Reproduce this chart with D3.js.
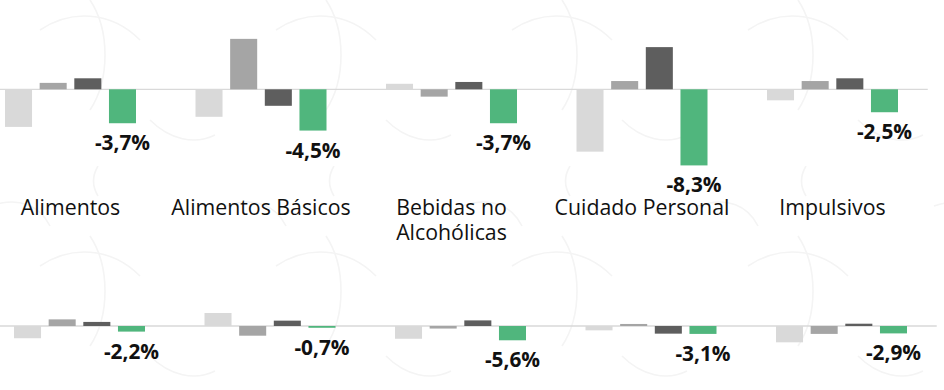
<!DOCTYPE html>
<html>
<head>
<meta charset="utf-8">
<script src="https://cdn.jsdelivr.net/npm/d3@7"></script>
<style>
  html, body { margin: 0; padding: 0; background: #ffffff; }
  svg { display: block; }
</style>
</head>
<body>
<div id="chart"></div>
<script>
// ---- data ----
const categories = ["Alimentos", "Alimentos Básicos", "Bebidas no Alcohólicas", "Cuidado Personal", "Impulsivos"];
const categoryLines = [["Alimentos"], ["Alimentos Básicos"], ["Bebidas no", "Alcohólicas"], ["Cuidado Personal"], ["Impulsivos"]];
const seriesNames = ["s1", "s2", "s3", "s4"];
// top row
const topS1 = [-4.1, -3.0, 0.6, -6.8, -1.2];
const topS2 = [0.7, 5.5, -0.8, 0.9, 0.9];
const topS3 = [1.2, -1.8, 0.8, 4.6, 1.2];
const topS4 = [-3.7, -4.5, -3.7, -8.3, -2.5];
// bottom row
const botS1 = [-4.8, 5.1, -5.0, -1.7, -6.4];
const botS2 = [2.6, -3.8, -1.0, 0.8, -3.1];
const botS3 = [1.6, 2.1, 2.2, -3.0, 0.9];
const botS4 = [-2.2, -0.7, -5.6, -3.1, -2.9];

const colors = ["#d9d9d9", "#a5a5a5", "#5e5e5e", "#50b67d"];

const W = 944, H = 390;
const svg = d3.select("#chart").append("svg").attr("width", W).attr("height", H);

// faint background watermark pattern
const defs = svg.append("defs");
const pat = defs.append("pattern").attr("id", "wm").attr("patternUnits", "userSpaceOnUse")
  .attr("width", 236).attr("height", 236).attr("x", -20).attr("y", -70);
const pg = pat.append("g").attr("fill", "none").attr("stroke", "#f4f4f4").attr("stroke-width", 1.6);
pg.append("path").attr("d", "M60,100 C90,80 130,80 160,110");
pg.append("path").attr("d", "M110,70 C130,100 130,150 110,180");
pg.append("path").attr("d", "M170,190 C190,210 215,215 235,205");
pg.append("path").attr("d", "M10,40 C40,30 60,40 70,60");
pg.append("path").attr("d", "M118,0 C112,10 112,20 118,30");
svg.append("rect").attr("width", W).attr("height", H).attr("fill", "url(#wm)");

function drawRow(rowData, opts) {
  const x0 = d3.scaleBand().domain(categories).range(opts.xRange);
  const inner = 131;
  const x1 = d3.scaleBand().domain(seriesNames)
    .range([(x0.bandwidth() - inner) / 2, (x0.bandwidth() + inner) / 2])
    .paddingInner(0.22).paddingOuter(0);
  const y = d3.scaleLinear().domain([-10, 10]).range(opts.yRange);

  const g = svg.append("g");
  // baseline
  g.append("line")
    .attr("x1", Math.max(0, opts.xRange[0])).attr("x2", opts.xRange[1])
    .attr("y1", y(0)).attr("y2", y(0))
    .attr("stroke", "#d9d9d9").attr("stroke-width", 1.3);

  const groups = g.selectAll("g.grp").data(categories).join("g")
    .attr("transform", d => `translate(${x0(d)},0)`);

  groups.selectAll("rect").data((c, i) => seriesNames.map((s, j) => ({ s, j, v: rowData[j][i] })))
    .join("rect")
    .attr("x", d => x1(d.s))
    .attr("width", x1.bandwidth())
    .attr("y", d => Math.min(y(d.v), y(0)))
    .attr("height", d => Math.abs(y(d.v) - y(0)))
    .attr("fill", d => colors[d.j]);

  const fmt = v => d3.format(".1f")(v).replace(".", ",").replace("−", "-") + "%";
  groups.append("text")
    .attr("x", x1("s4") + x1.bandwidth() / 2)
    .attr("y", (c, i) => y(rowData[3][i]) + 27)
    .attr("text-anchor", "middle")
    .attr("font-family", "'Open Sans', sans-serif")
    .attr("font-weight", 700)
    .attr("font-size", 20.8)
    .attr("fill", "#111")
    .text((c, i) => fmt(rowData[3][i]));
  return x0;
}

const xTop = drawRow([topS1, topS2, topS3, topS4], {
  xRange: [-24.75, 927.75],
  yRange: [89.3 + 91.7, 89.3 - 91.7]
});
drawRow([botS1, botS2, botS3, botS4], {
  xRange: [-15.75, 936.75],
  yRange: [326 + 25.5, 326 - 25.5]
});

// category labels
const lab = svg.append("g").selectAll("text").data(categories).join("text")
  .attr("x", d => xTop(d) + xTop.bandwidth() / 2)
  .attr("y", 215)
  .attr("text-anchor", "middle")
  .attr("font-family", "'Open Sans', sans-serif")
  .attr("font-size", 21.3)
  .attr("fill", "#111");
lab.each(function (d, i) {
  d3.select(this).selectAll("tspan").data(categoryLines[i]).join("tspan")
    .attr("x", xTop(d) + xTop.bandwidth() / 2)
    .attr("dy", (t, k) => k === 0 ? 0 : 25)
    .text(t => t);
});
</script>
</body>
</html>
